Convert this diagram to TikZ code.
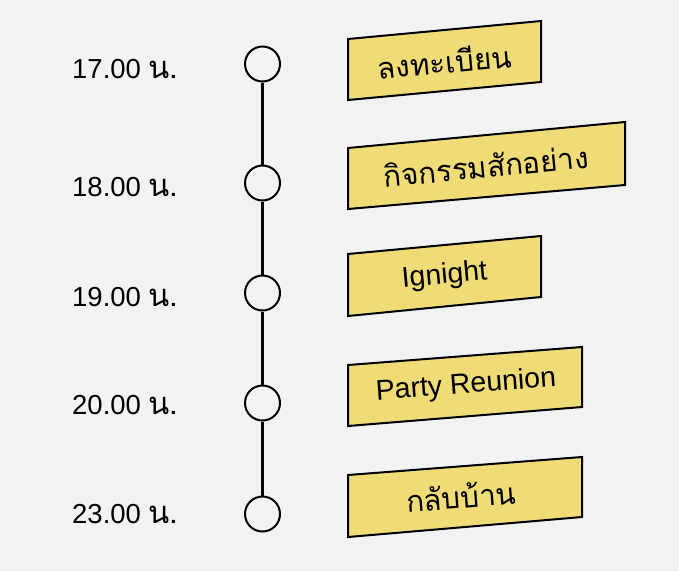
\documentclass[tikz,border=0pt]{standalone}
\usepackage{fontspec}
\setmainfont{Liberation Sans}
\newfontfamily\thai[Script=Thai]{Loma}
\definecolor{bgc}{RGB}{242,242,242}
\definecolor{boxy}{RGB}{240,220,118}
\newcommand{\thbig}{\thai\fontsize{29.5}{32}\selectfont}
\newcommand{\thsm}{\thai\fontsize{31}{34}\selectfont}
\begin{document}
\begin{tikzpicture}[x=1pt,y=-1pt,
  dot/.style={circle,draw=black,line width=2pt,fill=bgc,minimum size=35pt,inner sep=0pt},
  timelbl/.style={anchor=base west,inner sep=0pt,font=\fontsize{27.5}{30}\selectfont},
  boxshape/.style={draw=black,line width=2pt,fill=boxy,line join=miter},
  boxtxt/.style={inner sep=0pt,font=\fontsize{28.5}{30}\selectfont},
  tl/.style={line width=2.2pt}]
\fill[bgc] (0,0) rectangle (679,571);
\useasboundingbox (0,0) rectangle (679,571);
% circles
\node[dot] (c1) at (262.5,64) {};
\node[dot] (c2) at (262.5,183) {};
\node[dot] (c3) at (262.5,293) {};
\node[dot] (c4) at (262.5,403) {};
\node[dot] (c5) at (262.5,514) {};
\draw[tl] (c1) -- (c2);
\draw[tl] (c2) -- (c3);
\draw[tl] (c3) -- (c4);
\draw[tl] (c4) -- (c5);
% time labels
\node[timelbl] (t1) at (72,78) {17.00 {\thsm น.}};
\node[timelbl] (t2) at (72,196) {18.00 {\thsm น.}};
\node[timelbl] (t3) at (72,306) {19.00 {\thsm น.}};
\node[timelbl] (t4) at (72,414) {20.00 {\thsm น.}};
\node[timelbl] (t5) at (72,523) {23.00 {\thsm น.}};
% boxes
\draw[boxshape] (348,39) -- (541,21) -- (541,82) -- (348,100) -- cycle;
\node[boxtxt,rotate=5.3] (b1) at (444.5,61) {\thbig ลงทะเบียน};
\draw[boxshape] (348,148) -- (625,122) -- (625,185) -- (348,209) -- cycle;
\node[boxtxt,rotate=5.4] (b2) at (486,166) {\thbig กิจกรรมสักอย่าง};
\draw[boxshape] (348,254) -- (541,236) -- (541,297) -- (348,316) -- cycle;
\node[boxtxt,rotate=5.3] (b3) at (444.5,276) {Ignight};
\draw[boxshape] (348,365) -- (582,347) -- (582,407) -- (348,426) -- cycle;
\node[boxtxt,rotate=4.4] (b4) at (466,386) {Party Reunion};
\draw[boxshape] (348,475) -- (582,457) -- (582,517) -- (348,537) -- cycle;
\node[boxtxt,rotate=4.4] (b5) at (461,496) {\thbig กลับบ้าน};
\end{tikzpicture}
\end{document}
